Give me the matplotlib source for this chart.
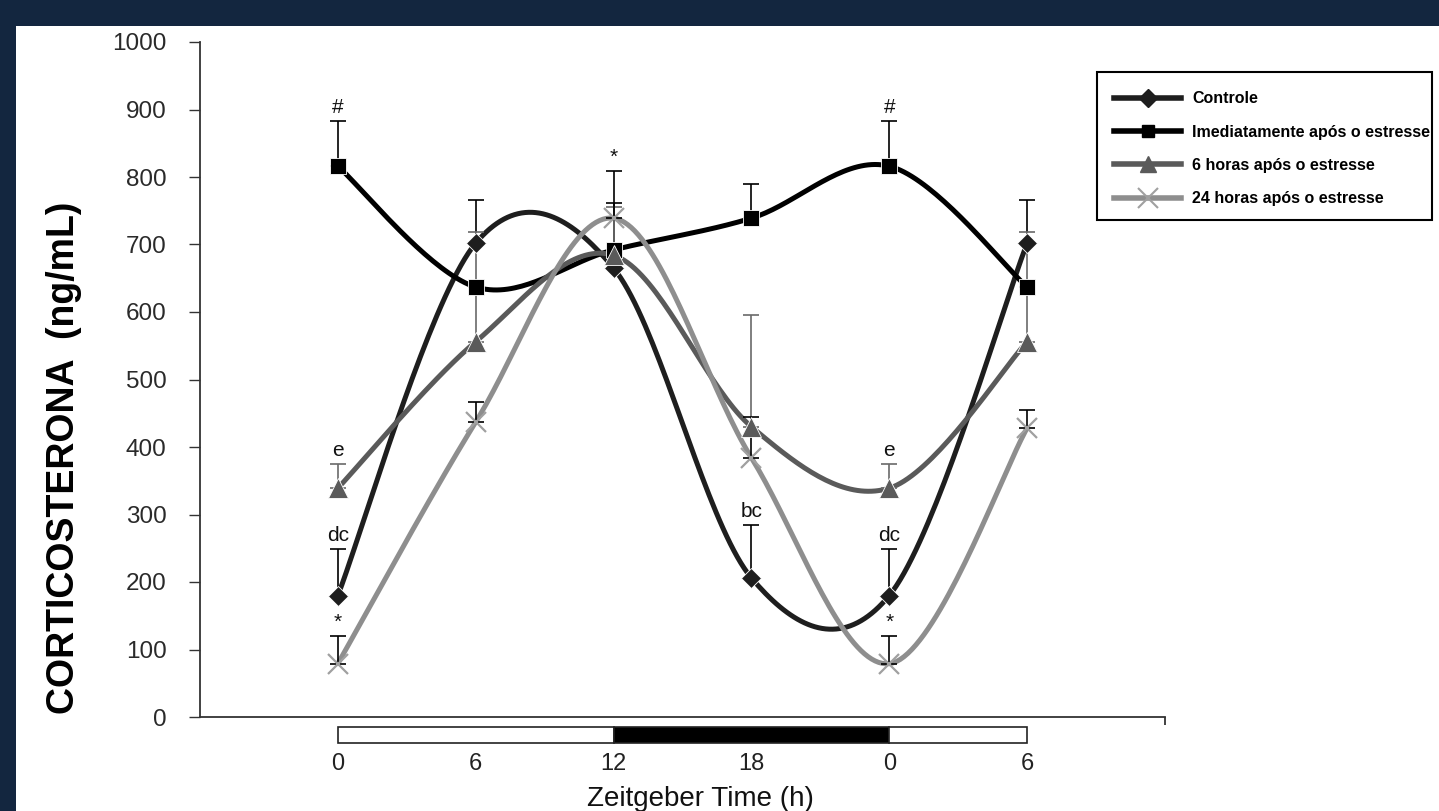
import numpy as np
import matplotlib
matplotlib.use('Agg')
import matplotlib.pyplot as plt
from matplotlib.lines import Line2D
from matplotlib.patches import Rectangle
from matplotlib import font_manager

# ---------------- data ----------------
zt_labels = ['0', '6', '12', '18', '0', '6']
controle = [180, 702, 665, 206, 180, 702]
controle_err = [69, 64, 0, 78, 69, 64]
imediatamente = [816, 637, 692, 739, 816, 637]
imediatamente_err = [67, 0, 69, 51, 67, 0]
seis_horas = [339, 556, 684, 430, 339, 556]
seis_horas_err = [36, 162, 72, 166, 36, 162]
vinte_quatro = [79, 437, 739, 384, 79, 428]
vinte_quatro_err = [41, 30, 70, 60, 41, 27]
series_names = ['Controle', 'Imediatamente após o estresse',
                '6 horas após o estresse', '24 horas após o estresse']
# significance marks: (series index, point index, text)
sig_marks = [(1, 0, '#'), (1, 4, '#'), (3, 2, '*'), (2, 0, 'e'), (2, 4, 'e'),
             (0, 0, 'dc'), (0, 4, 'dc'), (3, 0, '*'), (3, 4, '*'), (0, 3, 'bc')]
# light/dark phases (edges in category positions)
phase_edges = [0, 2, 4, 5]
phase_colors = ['white', 'black', 'white']

# ---------------- style ----------------
W, H = 1439, 811
avail = {f.name for f in font_manager.fontManager.ttflist}
base_font = 'Liberation Sans' if 'Liberation Sans' in avail else 'DejaVu Sans'
plt.rcParams['font.family'] = [base_font, 'DejaVu Sans']

colors = ['#1e1e1e', '#000000', '#5a5a5a', '#8e8e8e']
ecolors = ['#000000', '#000000', '#6a6a6a', '#000000']
markers = ['D', 's', '^', 'x']
msizes = [10, 12, 15, 15]

fig = plt.figure(figsize=(W / 100, H / 100), dpi=100)
fig.patch.set_facecolor('#13263f')
bg = Rectangle((16 / W, 0), 1 - 16 / W, 1 - 26 / H, transform=fig.transFigure,
               facecolor='white', edgecolor='none', zorder=-10)
fig.patches.append(bg)

ax = fig.add_axes([200 / W, (H - 717) / H, (1165 - 200) / W, (717 - 42) / H])
ax.set_zorder(1)
ax.set_facecolor('none')
ax.set_xlim(-1, 6)
ax.set_ylim(0, 1000)

x = np.arange(len(zt_labels), dtype=float)
all_y = [controle, imediatamente, seis_horas, vinte_quatro]
all_err = [controle_err, imediatamente_err, seis_horas_err, vinte_quatro_err]


def smooth(xs, ys, n=40):
    pts = np.column_stack([xs, ys]).astype(float)
    out = []
    for i in range(len(pts) - 1):
        p0 = pts[i - 1] if i > 0 else pts[i]
        p1, p2 = pts[i], pts[i + 1]
        p3 = pts[i + 2] if i + 2 < len(pts) else pts[i + 1]
        b1 = p1 + (p2 - p0) / 6
        b2 = p2 - (p3 - p1) / 6
        t = np.linspace(0, 1, n)[:, None]
        seg = ((1 - t) ** 3) * p1 + 3 * ((1 - t) ** 2) * t * b1 + 3 * (1 - t) * t ** 2 * b2 + t ** 3 * p2
        out.append(seg if i == 0 else seg[1:])
    out = np.vstack(out)
    return out[:, 0], out[:, 1]


draw_order = [1, 0, 2, 3]
for k in draw_order:
    sx, sy = smooth(x, all_y[k])
    ax.plot(sx, sy, color=colors[k], lw=3.6, solid_capstyle='round', zorder=2 + 0.1 * k)

for k in range(4):
    yv = np.array(all_y[k], dtype=float)
    ev = np.array(all_err[k], dtype=float)
    ax.errorbar(x, yv, yerr=[np.zeros_like(ev), ev], fmt='none', ecolor=ecolors[k],
                elinewidth=1.2, capsize=6, capthick=1.2, zorder=3)

for k in range(4):
    if markers[k] == 'x':
        ax.plot(x, all_y[k], ls='none', marker='x', ms=msizes[k], mew=1.6,
                color='#a0a0a0', zorder=4)
    else:
        ax.plot(x, all_y[k], ls='none', marker=markers[k], ms=msizes[k],
                color=colors[k], mec='white', mew=0.6, zorder=4 + 0.1 * k)

for k, i, txt in sig_marks:
    top = all_y[k][i] + all_err[k][i]
    ax.annotate(txt, (x[i], top), xytext=(0, 3), textcoords='offset points',
                ha='center', va='bottom', fontsize=15, color='#111111', zorder=5)

# axes styling
for s in ['top', 'right']:
    ax.spines[s].set_visible(False)
for s in ['left', 'bottom']:
    ax.spines[s].set_color('#333333')
    ax.spines[s].set_linewidth(1.3)
ax.set_yticks(np.arange(0, 1001, 100))
ax.tick_params(axis='y', direction='out', length=8, width=1, colors='#333333',
               labelsize=17.5, labelcolor='#2a2a2a', pad=16)
ax.set_xticks(x)
ax.set_xticklabels(zt_labels)
ax.tick_params(axis='x', length=0, labelsize=17, labelcolor='#222222', pad=34)
ax.set_xticks([6], minor=True)
ax.tick_params(axis='x', which='minor', length=6, width=1.3, colors='#333333')
for lbl in ax.get_xticklabels():
    lbl.set_va('center')

# light/dark bar
tr = ax.get_xaxis_transform()
for j, c in enumerate(phase_colors):
    ax.add_patch(Rectangle((phase_edges[j], -26 / 675), phase_edges[j + 1] - phase_edges[j], 16 / 675,
                           transform=tr, facecolor=c, edgecolor='#222222', lw=1.2, clip_on=False))

ax.set_ylabel('CORTICOSTERONA  (ng/mL)', fontsize=27, fontweight='bold', color='black')
ax.yaxis.set_label_coords(-(200 - 82) / 965, (717 - 458) / 675)
fig.text(700 / W, 5 / H, 'Zeitgeber Time (h)', ha='center', va='baseline', fontsize=20, color='#111111')

# legend
fig.patches.append(Rectangle((1097 / W, (H - 220) / H), (1432 - 1097) / W, (220 - 72) / H,
                             transform=fig.transFigure, facecolor='white', edgecolor='black',
                             lw=1.5, zorder=1))
handles = []
for k in range(4):
    if markers[k] == 'x':
        handles.append(Line2D([], [], color=colors[k], lw=4, marker='x', ms=14, mew=1.5, mec='#a0a0a0'))
    else:
        handles.append(Line2D([], [], color=colors[k], lw=4, marker=markers[k], ms=9 if k < 2 else 11,
                              mfc=colors[k], mec=colors[k]))
leg = fig.legend(handles, series_names, loc='upper left', bbox_to_anchor=(1103 / W, 1 - 80 / H),
                 frameon=False, handlelength=4.2, handletextpad=0.7, labelspacing=1.15,
                 prop={'weight': 'bold', 'size': 11.5}, borderpad=0.2)
leg.set_zorder(2)

fig.savefig('out.png', dpi=100, facecolor=fig.get_facecolor())
